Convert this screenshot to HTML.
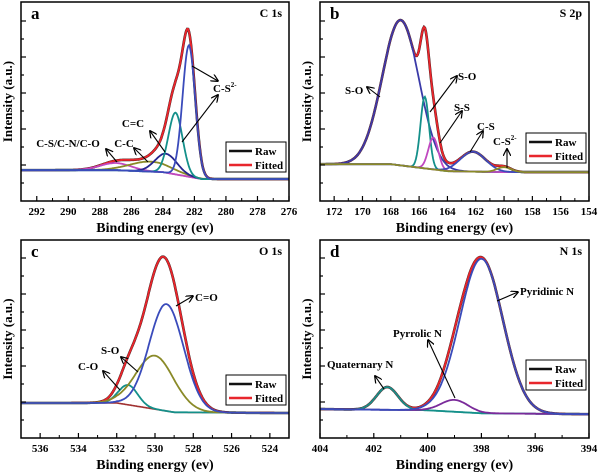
<!DOCTYPE html>
<html><head><meta charset="utf-8">
<style>
body{margin:0;background:#fff;}
svg{display:block;font-family:"Liberation Serif",serif;font-weight:bold;}
</style></head>
<body>
<svg id="fig" width="600" height="474" viewBox="0 0 600 474" xmlns="http://www.w3.org/2000/svg">
<defs><marker id="ah" viewBox="0 0 10 10" refX="9" refY="5" markerWidth="7" markerHeight="7" orient="auto"><path d="M0,0 L10,5 L0,10" fill="none" stroke="#000" stroke-width="1.6"/></marker></defs>
</svg>
<script>
// ---- Panel a: C 1s ----
const aCenters=[287.0,284.8,283.8,283.2,282.35];
const aHeights=[3.6,5,9.5,31,66];
const aSigmas=[1.0,1.3,0.7,0.45,0.4];
const aBaseE=[293,287,284,281.5,276];
const aBaseV=[15.5,15.5,14.5,11,11];
const aTicks=[292,290,288,286,284,282,280,278,276];
// ---- Panel b: S 2p ----
const bCenters=[167.3,165.6,165.0,162.2,160.0];
const bHeights=[73,36,16,10,2.5];
const bSigmas=[1.3,0.3,0.35,0.9,0.5];
const bBaseE=[173,168,164,160,154];
const bBaseV=[18.5,18.5,15,14.5,14.5];
const bTicks=[172,170,168,166,164,162,160,158,156,154];
// ---- Panel c: O 1s ----
const cCenters=[531.4,530.0,529.4];
const cHeights=[10,27,54];
const cSigmas=[0.5,1.0,0.9];
const cBaseE=[537,532,529,523];
const cBaseV=[17.7,17.7,13,12.6];
const cTicks=[536,534,532,530,528,526,524];
// ---- Panel d: N 1s ----
const dCenters=[401.5,399.0,398.0];
const dHeights=[11.5,6,78];
const dSigmas=[0.4,0.5,0.8];
const dBaseE=[404,400,398,394];
const dBaseV=[14.6,14,12.5,12];
const dTicks=[404,402,400,398,396,394];

const NS="http://www.w3.org/2000/svg";
const svg=document.getElementById('fig');
function mk(tag,attrs,parent){const e=document.createElementNS(NS,tag);for(const k in attrs)e.setAttribute(k,attrs[k]);(parent||svg).appendChild(e);return e;}
function interp(xs,ys,x){
  if(x>=xs[0])return ys[0];
  for(let i=0;i<xs.length-1;i++){if(x<=xs[i]&&x>=xs[i+1]){const t=(xs[i]-x)/(xs[i]-xs[i+1]);return ys[i]+t*(ys[i+1]-ys[i]);}}
  return ys[ys.length-1];
}
function panel(p){
  const g=mk('g',{});
  
  
  const L=p.L,R=p.R,T=p.T,B=p.B;
  const sx=e=>L+(p.e0-e)/(p.e0-p.e1)*(R-L);
  const sy=v=>B-v/100*(B-T);
  const N=300;
  const base=e=>interp(p.bE,p.bV,e);
  const gauss=(i,e)=>p.h[i]*Math.exp(-0.5*Math.pow((e-p.c[i])/p.s[i],2));
  const path=f=>{let d='';for(let k=0;k<=N;k++){const e=p.e0-(p.e0-p.e1)*k/N;d+=(k?'L':'M')+sx(e).toFixed(1)+','+sy(f(e)).toFixed(1);}return d;};
  const fit=e=>{let v=base(e);for(let i=0;i<p.c.length;i++)v+=gauss(i,e);return v;};
  const clip='clip'+p.id;
  const cp=mk('clipPath',{id:clip},g);mk('rect',{x:L,y:T,width:R-L,height:B-T},cp);
  const plot=mk('g',{'clip-path':'url(#'+clip+')'},g);
  const raw=mk('path',{d:path(fit),fill:'none',stroke:'#111','stroke-width':2.6},plot);
  
  
  const fl=mk('path',{d:path(fit),fill:'none',stroke:'#e8262c','stroke-width':2},plot);
  
  
  const bl=mk('path',{d:path(base),fill:'none',stroke:p.baseColor,'stroke-width':1.6},plot);
  
  
  for(let i=0;i<p.c.length;i++){
    const cl=mk('path',{d:path(e=>base(e)+gauss(i,e)),fill:'none',stroke:p.colors[i],'stroke-width':1.8},plot);
    
    
  }
  const fr=mk('rect',{x:L,y:T,width:R-L,height:B-T,fill:'none',stroke:'#000','stroke-width':1.5},g);
  
  
  for(let i=0;i<p.ticks.length;i++){
    const x=sx(p.ticks[i]);
    mk('line',{x1:x,y1:B,x2:x,y2:B-5,stroke:'#000','stroke-width':1.2},g);
    if(i<p.ticks.length-1){const xm=sx(p.ticks[i]-(p.ticks[i]-p.ticks[i+1])/2);mk('line',{x1:xm,y1:B,x2:xm,y2:B-3,stroke:'#000','stroke-width':1},g);}
    const t=mk('text',{x:x,y:B+14,'text-anchor':'middle','font-size':11},g);t.textContent=p.ticks[i];
    
    
  }
  for(let k=1;k<11;k++){const y=B-k*18;if(y<T+3)break;mk('line',{x1:L,y1:y,x2:L+(k%2?3:5),y2:y,stroke:'#000','stroke-width':1.2},g);}
  const xt=mk('text',{x:(L+R)/2,y:B+31,'text-anchor':'middle','font-size':14},g);xt.textContent='Binding energy (ev)';
  
  
  const yt=mk('text',{x:0,y:0,'text-anchor':'middle','font-size':13,transform:'translate('+(L-9)+','+((T+B)/2)+') rotate(-90)'},g);yt.textContent='Intensity (a.u.)';
  
  
  const lt=mk('text',{x:L+10,y:T+17,'font-size':17},g);lt.textContent=p.id;
  
  
  const ti=mk('text',{x:R-7,y:T+15,'text-anchor':'end','font-size':12},g);ti.textContent=p.title;
  
  
  const lg=mk('g',{},g);
  
  
  const[lx,ly]=p.leg;
  mk('rect',{x:lx,y:ly,width:60,height:30,fill:'#fff',stroke:'#000','stroke-width':1},lg);
  mk('line',{x1:lx+3,y1:ly+9,x2:lx+26,y2:ly+9,stroke:'#111','stroke-width':2.5},lg);
  mk('line',{x1:lx+3,y1:ly+23,x2:lx+26,y2:ly+23,stroke:'#e8262c','stroke-width':2.5},lg);
  const t1=mk('text',{x:lx+29,y:ly+13,'font-size':11},lg);t1.textContent='Raw';
  
  
  const t2=mk('text',{x:lx+29,y:ly+27,'font-size':11},lg);t2.textContent='Fitted';
  
  
  p.ann.forEach(a=>{
    const t=mk('text',{x:a[0],y:a[1],'font-size':11,'text-anchor':a[3]||'start'},g);t.innerHTML=a[2];
    
    
  });
  p.arrows.forEach(a=>{
    const l=mk('line',{x1:a[0],y1:a[1],x2:a[2],y2:a[3],stroke:'#000','stroke-width':1.1,'marker-end':'url(#ah)'},g);
    
    
  });
}
const sup='<tspan font-size="7" dy="-5">2-</tspan>';
panel({id:'a',title:'C 1s',L:21,R:289,T:2,B:201,e0:293,e1:276,c:aCenters,h:aHeights,s:aSigmas,bE:aBaseE,bV:aBaseV,ticks:aTicks,
  colors:['#c048c0','#8a8a28','#25258f','#14908a','#3a4bbb'],baseColor:'#b04a6a',leg:[226,142],
  ann:[[213,92,'C-S'+sup],[133,127,'C=C','middle'],[124,147,'C-C','middle'],[68,147,'C-S/C-N/C-O','middle']],
  arrows:[[192,66,218,81],[182,142,218,95],[165,152,150,131],[148,162,134,148],[117,162,106,149]]});
panel({id:'b',title:'S 2p',L:320,R:589,T:2,B:201,e0:173,e1:154,c:bCenters,h:bHeights,s:bSigmas,bE:bBaseE,bV:bBaseV,ticks:bTicks,
  colors:['#3a3aa8','#14908a','#c048c0','#3a4bbb','#8a8a28'],baseColor:'#c048c0',leg:[526,133],
  ann:[[345,94,'S-O'],[458,80,'S-O'],[454,111,'S-S'],[477,130,'C-S'],[493,145,'C-S'+sup]],
  arrows:[[380,97,367,87],[430,112,457,76],[440,143,462,111],[470,152,483,131],[507,168,507,149]]});
panel({id:'c',title:'O 1s',L:21,R:289,T:240,B:438,e0:537,e1:523,c:cCenters,h:cHeights,s:cSigmas,bE:cBaseE,bV:cBaseV,ticks:cTicks,
  colors:['#14908a','#8a8a28','#3a4bbb'],baseColor:'#a03030',leg:[226,375],
  ann:[[195,301,'C=O'],[101,354,'S-O'],[78,370,'C-O']],
  arrows:[[176,306,193,296],[138,372,121,357],[120,390,103,371]]});
panel({id:'d',title:'N 1s',L:320,R:589,T:240,B:438,e0:404,e1:394,c:dCenters,h:dHeights,s:dSigmas,bE:dBaseE,bV:dBaseV,ticks:dTicks,
  colors:['#14908a','#7a2a9a','#3a4bbb'],baseColor:'#14908a',leg:[526,360],
  ann:[[520,295,'Pyridinic N'],[393,337,'Pyrrolic N'],[327,368,'Quaternary N']],
  arrows:[[497,301,518,292],[455,398,428,340],[384,389,375,376]]});
</script>
</body></html>
